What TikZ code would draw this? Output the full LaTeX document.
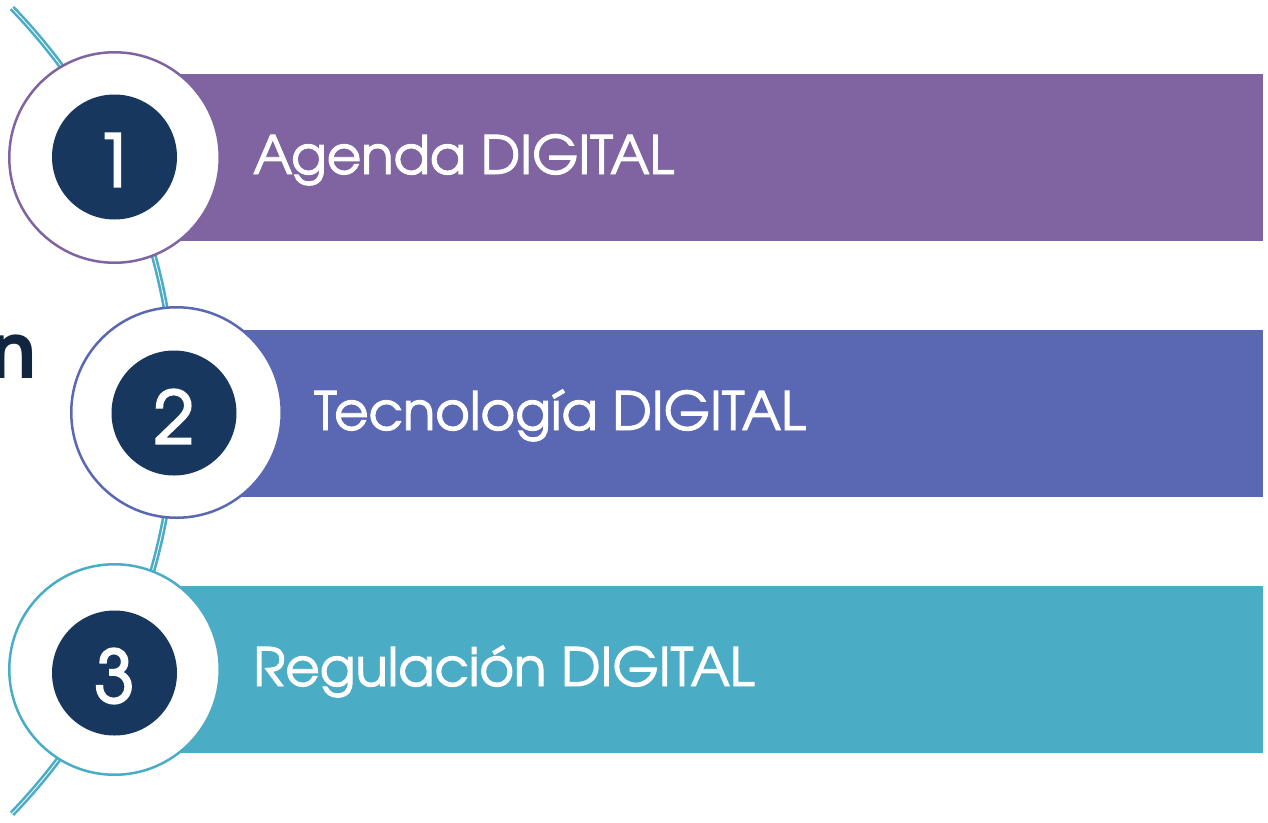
\documentclass[tikz,border=0pt]{standalone}
\usepackage{fontspec}
\setmainfont{TeX Gyre Adventor}
\newfontfamily\lblfont[FakeBold=1.8]{TeX Gyre Adventor}
\newfontfamily\numfont[FakeBold=3]{TeX Gyre Adventor}
\definecolor{cpurple}{HTML}{8064A2}
\definecolor{cblue}{HTML}{5A68B4}
\definecolor{cteal}{HTML}{4BACC6}
\definecolor{cnavy}{HTML}{17375E}
\definecolor{ctitle}{HTML}{0F2540}
\tikzset{
  arcline/.style={draw=cteal, line width=2.6pt, double=white, double distance=0.8pt},
  bar/.style={rectangle, draw=none, inner sep=0pt, minimum height=167pt, anchor=west},
  ring/.style={circle, fill=white, line width=2.5pt, minimum size=210.5pt, inner sep=0pt},
  dot/.style={circle, fill=cnavy, draw=none, minimum size=125pt, inner sep=0pt},
  num/.style={text=white, inner sep=0pt, font=\numfont\fontsize{72}{80}\selectfont},
  lbl/.style={text=white, inner sep=0pt, anchor=base west, font=\lblfont\fontsize{53}{60}\selectfont},
}
\begin{document}
\begin{tikzpicture}[x=1pt,y=-1pt]
\useasboundingbox (0,0) rectangle (1268,822);
\clip (0,0) rectangle (1268,822);
% curved line
\coordinate (arcTop) at (12,8);
\draw[arcline] (arcTop) arc[start angle=-44, end angle=44, radius=580];
% partial title letter
\node[text=ctitle, inner sep=0pt, anchor=base east, font=\fontsize{77}{80}\bfseries\selectfont] (title) at (37,378) {n};
% bars
\node[bar, fill=cpurple, minimum width=1148pt] (b1) at (115,157.5) {};
\node[bar, fill=cblue, minimum width=1087pt] (b2) at (176,413) {};
\node[bar, fill=cteal, minimum width=1148pt] (b3) at (115,669.5) {};
% rings
\node[ring, draw=cpurple] (r1) at (114.5,157.5) {};
\node[ring, draw=cblue] (r2) at (176.5,412.5) {};
\node[ring, draw=cteal] (r3) at (114.5,669.5) {};
% inner dots
\node[dot] (d1) at (114.5,157) {};
\node[dot] (d2) at (174,413) {};
\node[dot] (d3) at (114.5,673) {};
% numbers
\node[num] (n1) at (114.5,160) {1};
\node[num] (n2) at (174,416.5) {2};
\node[num] (n3) at (114.5,676) {3};
% labels
\node[lbl] (t1) at (253,174) {Agenda DIGITAL};
\node[lbl] (t2) at (314,430) {Tecnología DIGITAL};
\node[lbl] (t3) at (253,686) {Regulación DIGITAL};
\end{tikzpicture}
\end{document}
